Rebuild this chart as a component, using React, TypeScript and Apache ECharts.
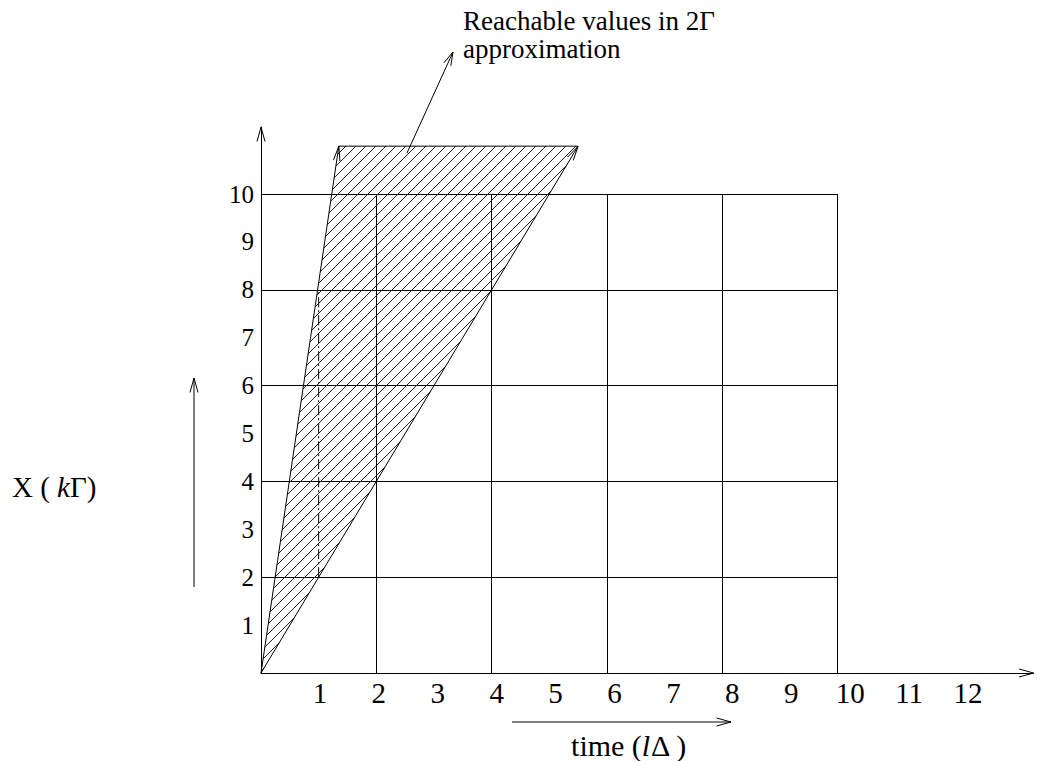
import React, { useEffect, useRef } from "react";
import * as echarts from "echarts";

// ---- data ----
const xTickLabels = ["1", "2", "3", "4", "5", "6", "7", "8", "9", "10", "11", "12"];
const yTickLabels = ["1", "2", "3", "4", "5", "6", "7", "8", "9", "10"];
const gridValues = [2, 4, 6, 8, 10];
const gridExtent = 10;
const xAxisMax = 13.4;
const yAxisMax = 11.4;
const labelAxisMax = 13;
// reachable region (time, X)
const regionVertices: number[][] = [
  [0, 0],
  [1.35, 11],
  [5.5, 11],
];
// dash-dot line at time = 1
const approxLine: number[][] = [
  [1, 2],
  [1, 8],
];
// axis arrow tips: [tipX, tipY, fromX, fromY]
const axisArrows: number[][] = [
  [xAxisMax, 0, xAxisMax - 1, 0],
  [0, yAxisMax, 0, yAxisMax - 1],
];

const FONT = "'Liberation Serif', 'Times New Roman', serif";
const HATCH = 10;

function chevron(tip: number[], from: number[], len = 14, half = 0.3): number[][] {
  const dx = from[0] - tip[0];
  const dy = from[1] - tip[1];
  const d = Math.hypot(dx, dy) || 1;
  const ux = dx / d;
  const uy = dy / d;
  const rot = (a: number) => [
    tip[0] + len * (ux * Math.cos(a) - uy * Math.sin(a)),
    tip[1] + len * (ux * Math.sin(a) + uy * Math.cos(a)),
  ];
  return [rot(half), tip, rot(-half)];
}

const lineStyleBlack = { stroke: "#000", lineWidth: 1, fill: "none" };

export default function App() {
  const ref = useRef<HTMLDivElement>(null);

  useEffect(() => {
    if (!ref.current) return;
    const chart = echarts.init(ref.current, undefined, { renderer: "svg" });

    const gridLineData: any[] = [];
    gridValues.forEach((v) => {
      gridLineData.push({ coords: [[v, 0], [v, gridExtent]] });
      gridLineData.push({ coords: [[0, v], [gridExtent, v]] });
    });

    const option: any = {
      animation: false,
      backgroundColor: "#fff",
      grid: [
        { left: 261, top: 127, width: 772.5, height: 546, containLabel: false },
        { left: 261, top: 127, width: 58.92 * labelAxisMax, height: 546, containLabel: false },
      ],
      xAxis: [
        {
          type: "value",
          gridIndex: 0,
          min: 0,
          max: xAxisMax,
          interval: 1,
          axisLine: { show: true, onZero: false, lineStyle: { color: "#000", width: 1 } },
          axisTick: { show: false },
          axisLabel: { show: false },
          splitLine: { show: false },
        },
        {
          type: "value",
          gridIndex: 1,
          min: 0,
          max: labelAxisMax,
          interval: 1,
          axisLine: { show: false },
          axisTick: { show: false },
          splitLine: { show: false },
          axisLabel: {
            show: true,
            margin: 5,
            fontSize: 29,
            fontFamily: FONT,
            color: "#000",
            formatter: (v: number) => {
              const i = Math.round(v);
              if (Math.abs(v - i) > 1e-6 || i < 1 || i > xTickLabels.length) return "";
              return xTickLabels[i - 1];
            },
          },
        },
      ],
      yAxis: [
        {
          type: "value",
          gridIndex: 0,
          min: 0,
          max: yAxisMax,
          interval: 1,
          axisLine: { show: true, onZero: false, lineStyle: { color: "#000", width: 1 } },
          axisTick: { show: false },
          splitLine: { show: false },
          axisLabel: {
            show: true,
            margin: 7,
            fontSize: 25,
            fontFamily: FONT,
            color: "#000",
            formatter: (v: number) => {
              const i = Math.round(v);
              if (Math.abs(v - i) > 1e-6 || i < 1 || i > yTickLabels.length) return "";
              return yTickLabels[i - 1];
            },
          },
        },
        {
          type: "value",
          gridIndex: 1,
          min: 0,
          max: yAxisMax,
          show: false,
        },
      ],
      series: [
        {
          type: "lines",
          coordinateSystem: "cartesian2d",
          xAxisIndex: 0,
          yAxisIndex: 0,
          silent: true,
          lineStyle: { color: "#000", width: 1, opacity: 1 },
          data: gridLineData,
          z: 2,
        },
        {
          type: "custom",
          xAxisIndex: 0,
          yAxisIndex: 0,
          silent: true,
          clip: false,
          data: [[0, 0]],
          z: 3,
          renderItem: (_params: any, api: any) => {
            const pts: number[][] = regionVertices.map((v) => api.coord(v));
            const children: any[] = [];
            const sums = pts.map((p) => p[0] + p[1]);
            const cmin = Math.min(...sums);
            const cmax = Math.max(...sums);
            for (let c = Math.ceil(cmin / HATCH) * HATCH + 2; c <= cmax; c += HATCH) {
              const hits: number[][] = [];
              for (let i = 0; i < pts.length; i++) {
                const A = pts[i];
                const B = pts[(i + 1) % pts.length];
                const fa = A[0] + A[1] - c;
                const fb = B[0] + B[1] - c;
                if ((fa <= 0 && fb > 0) || (fa > 0 && fb <= 0)) {
                  const t = fa / (fa - fb);
                  hits.push([A[0] + t * (B[0] - A[0]), A[1] + t * (B[1] - A[1])]);
                }
              }
              if (hits.length >= 2) {
                hits.sort((a, b) => a[0] - b[0]);
                const p1 = hits[0];
                const p2 = hits[hits.length - 1];
                children.push({
                  type: "line",
                  shape: { x1: p1[0], y1: p1[1], x2: p2[0], y2: p2[1] },
                  style: { stroke: "#222", lineWidth: 1 },
                });
              }
            }
            const O = pts[0];
            const TL = pts[1];
            const TR = pts[2];
            children.push({ type: "line", shape: { x1: O[0], y1: O[1], x2: TL[0], y2: TL[1] }, style: lineStyleBlack });
            children.push({ type: "line", shape: { x1: O[0], y1: O[1], x2: TR[0], y2: TR[1] }, style: lineStyleBlack });
            children.push({ type: "line", shape: { x1: TL[0], y1: TL[1], x2: TR[0], y2: TR[1] }, style: lineStyleBlack });
            children.push({ type: "polyline", shape: { points: chevron(TL, O, 15, 0.22) }, style: lineStyleBlack });
            children.push({ type: "polyline", shape: { points: chevron(TR, O, 15, 0.22) }, style: lineStyleBlack });
            return { type: "group", children };
          },
        },
        {
          type: "line",
          xAxisIndex: 0,
          yAxisIndex: 0,
          data: approxLine,
          symbol: "none",
          silent: true,
          lineStyle: { color: "#000", width: 1, type: [10, 3, 2, 3] },
          z: 4,
        },
        {
          type: "custom",
          xAxisIndex: 0,
          yAxisIndex: 0,
          silent: true,
          clip: false,
          data: axisArrows,
          z: 5,
          renderItem: (_params: any, api: any) => {
            const tip = api.coord([api.value(0), api.value(1)]);
            const from = api.coord([api.value(2), api.value(3)]);
            return { type: "polyline", shape: { points: chevron(tip, from, 15, 0.27) }, style: lineStyleBlack };
          },
        },
        {
          type: "scatter",
          xAxisIndex: 1,
          yAxisIndex: 1,
          data: [],
        },
      ],
      graphic: [
        // annotation
        { type: "line", shape: { x1: 407, y1: 153, x2: 453, y2: 52 }, style: lineStyleBlack, silent: true },
        { type: "polyline", shape: { points: chevron([453, 52], [407, 153], 14, 0.27) }, style: lineStyleBlack, silent: true },
        {
          type: "text",
          x: 463,
          y: 21,
          silent: true,
          style: {
            text: "Reachable values in 2Γ",
            fontSize: 27,
            lineHeight: 27,
            fontFamily: FONT,
            fill: "#000",
            align: "left",
            textAlign: "left",
            verticalAlign: "middle",
            textVerticalAlign: "middle",
          },
        },
        {
          type: "text",
          x: 463,
          y: 49,
          silent: true,
          style: {
            text: "approximation",
            fontSize: 27,
            lineHeight: 27,
            fontFamily: FONT,
            fill: "#000",
            align: "left",
            textAlign: "left",
            verticalAlign: "middle",
            textVerticalAlign: "middle",
          },
        },
        // y title
        { type: "line", shape: { x1: 194, y1: 587, x2: 194, y2: 378 }, style: lineStyleBlack, silent: true },
        { type: "polyline", shape: { points: chevron([194, 378], [194, 587], 15, 0.27) }, style: lineStyleBlack, silent: true },
        {
          type: "text",
          x: 12,
          y: 487,
          silent: true,
          style: {
            text: "X ( {i|k}Γ)",
            fontSize: 29,
            fontFamily: FONT,
            fill: "#000",
            align: "left",
            textAlign: "left",
            verticalAlign: "middle",
            textVerticalAlign: "middle",
            rich: { i: { fontStyle: "italic", fontSize: 29, fontFamily: FONT, fill: "#000" } },
          },
        },
        // x title
        { type: "line", shape: { x1: 512, y1: 722, x2: 731, y2: 722 }, style: lineStyleBlack, silent: true },
        { type: "polyline", shape: { points: chevron([731, 722], [512, 722], 15, 0.27) }, style: lineStyleBlack, silent: true },
        {
          type: "text",
          x: 629,
          y: 745,
          silent: true,
          style: {
            text: "time ({i|l}Δ )",
            fontSize: 30,
            fontFamily: FONT,
            fill: "#000",
            align: "center",
            textAlign: "center",
            verticalAlign: "middle",
            textVerticalAlign: "middle",
            rich: { i: { fontStyle: "italic", fontSize: 30, fontFamily: FONT, fill: "#000" } },
          },
        },
      ],
    };

    chart.setOption(option);
    return () => {
      chart.dispose();
    };
  }, []);

  return (
    <div
      ref={ref}
      style={{ position: "absolute", left: 0, top: 0, width: 1042, height: 761, background: "#fff" }}
    />
  );
}
